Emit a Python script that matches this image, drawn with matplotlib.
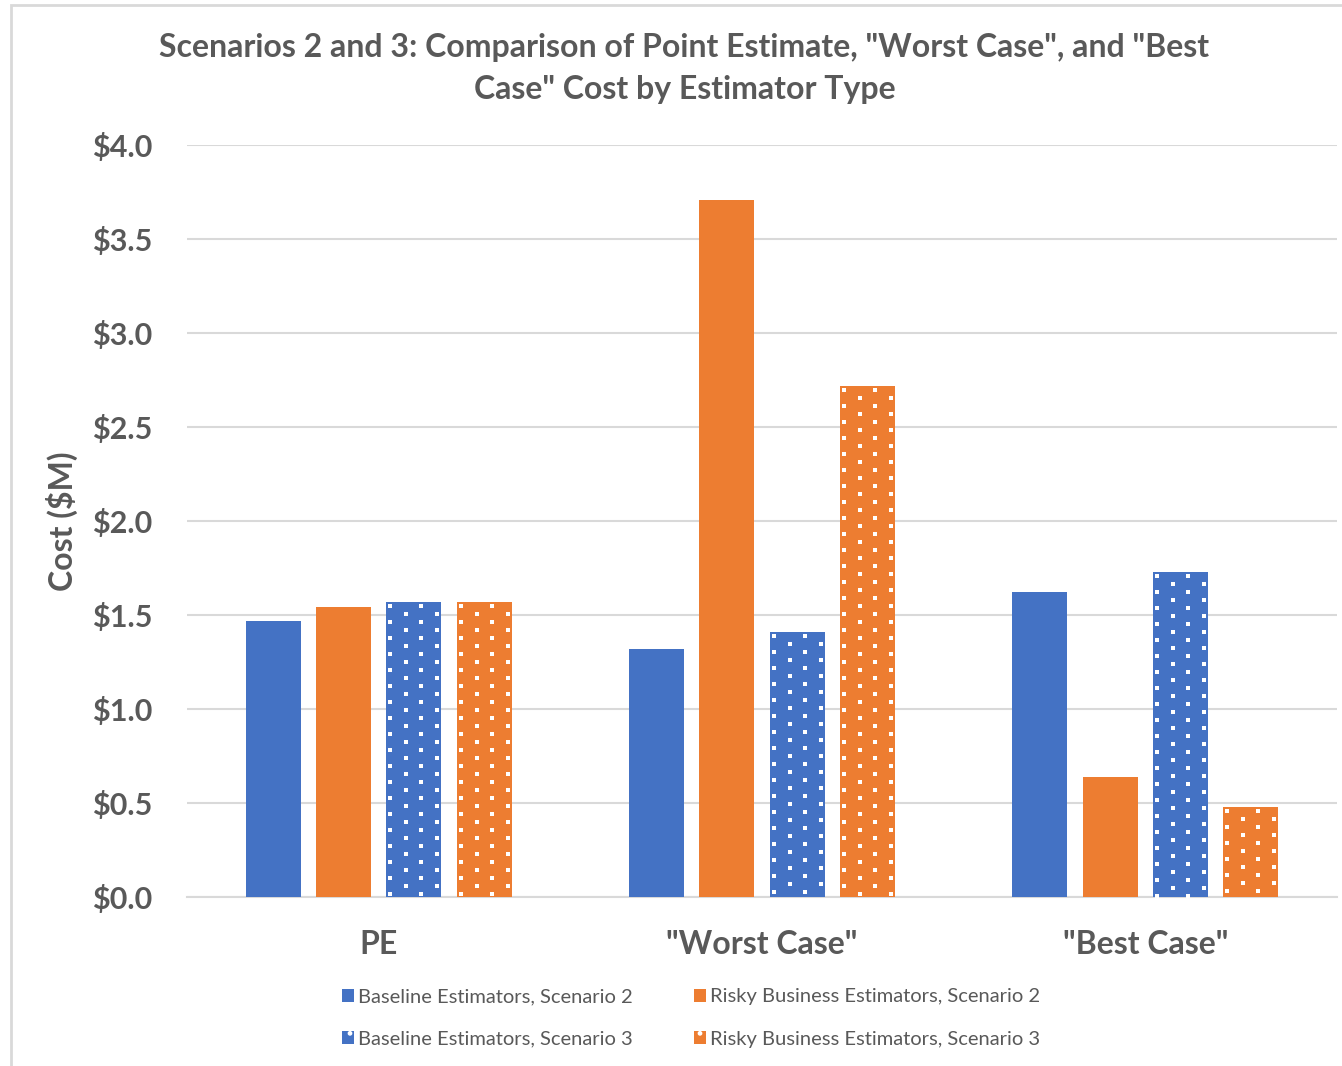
import numpy as np
import matplotlib.pyplot as plt
from matplotlib.patches import Patch, Rectangle

plt.rcParams['font.family'] = ['Lato', 'DejaVu Sans']
plt.rcParams['hatch.color'] = 'white'

categories = ['PE', '"Worst Case"', '"Best Case"']
series = [
    'Baseline Estimators, Scenario 2',
    'Risky Business Estimators, Scenario 2',
    'Baseline Estimators, Scenario 3',
    'Risky Business Estimators, Scenario 3',
]
baseline_s2 = [1.47, 1.32, 1.62]
risky_s2 = [1.54, 3.71, 0.64]
baseline_s3 = [1.57, 1.41, 1.73]
risky_s3 = [1.57, 2.72, 0.48]
yticks = [0.0, 0.5, 1.0, 1.5, 2.0, 2.5, 3.0, 3.5, 4.0]

BLUE = '#4472C4'
ORANGE = '#ED7D31'
TEXT = '#595959'
GRID = '#D9D9D9'

values = [baseline_s2, risky_s2, baseline_s3, risky_s3]
colors = [BLUE, ORANGE, BLUE, ORANGE]
dotted = [False, False, True, True]

fig = plt.figure(figsize=(13.42, 10.66), dpi=100)
ax = fig.add_axes([187 / 1342, 1 - 897 / 1066, 1150 / 1342, 752 / 1066])

# outer chart border
fig.patches.append(Rectangle((11 / 1342, -0.05), 1.2, 1 - 5 / 1066 + 0.05,
                             transform=fig.transFigure, fill=False,
                             edgecolor='#D9D9D9', linewidth=2))

x = np.arange(len(categories))
width = 0.1436
step = 0.1836
offsets = (np.arange(4) - 1.5) * step

bars = []
for i in range(4):
    b = ax.bar(x + offsets[i], values[i], width, color=colors[i],
               linewidth=0, zorder=3)
    bars.append(b)

ax.set_xlim(-0.5, 2.5)
ax.set_ylim(0, 4.0)
ax.set_yticks(yticks)
ax.set_yticklabels([f'${v:.1f}' for v in yticks])
ax.set_xticks(x)
ax.set_xticklabels(categories)
ax.tick_params(axis='y', length=0, pad=25, labelsize=22, labelcolor=TEXT)
ax.tick_params(axis='x', length=0, pad=24, labelsize=23, labelcolor=TEXT)
for lab in ax.get_xticklabels() + ax.get_yticklabels():
    lab.set_fontweight('bold')
ax.grid(axis='y', color=GRID, linewidth=1.5, zorder=0)
for s in ['top', 'right', 'left']:
    ax.spines[s].set_visible(False)
ax.spines['bottom'].set_color(GRID)
ax.spines['bottom'].set_linewidth(1.5)

ax.set_ylabel('Cost ($M)', fontsize=23, fontweight='bold', color=TEXT)
ax.yaxis.set_label_coords(-0.095, 0.5)

fig.text(0.510, 1 - 47 / 1066,
         'Scenarios 2 and 3: Comparison of Point Estimate, "Worst Case", and "Best',
         ha='center', va='center', fontsize=23, fontweight='bold', color=TEXT)
fig.text(0.510, 1 - 89 / 1066, 'Case" Cost by Estimator Type',
         ha='center', va='center', fontsize=23, fontweight='bold', color=TEXT)

# white dot pattern on the Scenario 3 bars: staggered rows of small squares
to_data = ax.transData.inverted()
for i in range(4):
    if not dotted[i]:
        continue
    for rect in bars[i]:
        (x0, y0), (x1, y1) = ax.transData.transform(
            [(rect.get_x(), 0), (rect.get_x() + rect.get_width(), rect.get_height())])
        rows = np.arange(y1 - 4, y0, -8)
        pts = []
        for k, ry in enumerate(rows):
            start = x0 + (4 if k % 2 == 0 else 20)
            for cx in np.arange(start, x1, 31):
                pts.append((cx, ry))
        pts = to_data.transform(np.array(pts))
        sc = ax.scatter(pts[:, 0], pts[:, 1], marker='s', s=5, color='white',
                        linewidths=0, zorder=4)
        sc.set_clip_path(rect)

handles = [
    Patch(facecolor=BLUE, label=series[0]),
    Patch(facecolor=BLUE, hatch='.', label=series[2]),
    Patch(facecolor=ORANGE, label=series[1]),
    Patch(facecolor=ORANGE, hatch='.', label=series[3]),
]
leg = fig.legend(handles=handles, loc='center', ncol=2,
                 bbox_to_anchor=(0.515, 1 - 1018 / 1066), frameon=False,
                 fontsize=14.5, handlelength=0.6, handleheight=0.6,
                 handletextpad=0.2, columnspacing=3.0, labelspacing=1.25)
for t in leg.get_texts():
    t.set_color(TEXT)

fig.savefig('out.png', dpi=100)
